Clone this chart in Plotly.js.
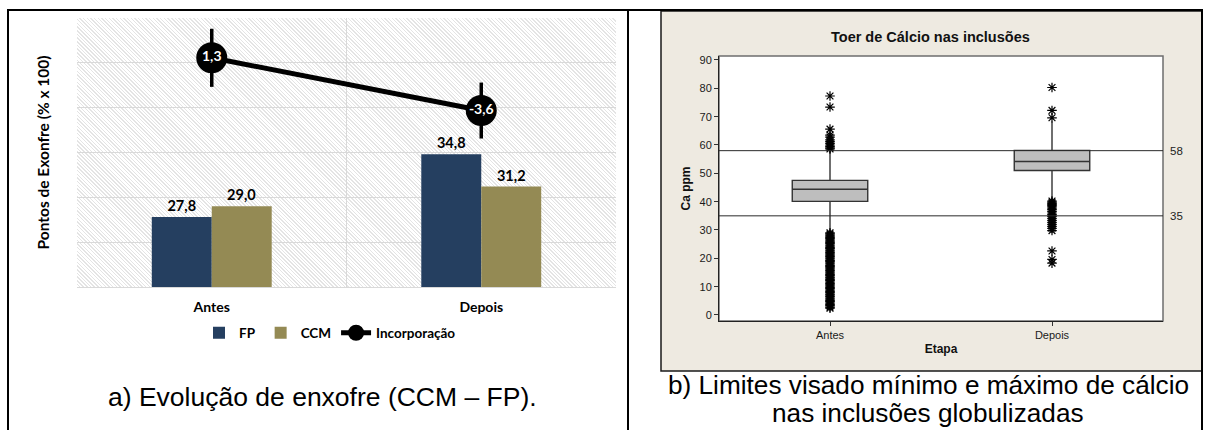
<!DOCTYPE html>
<html>
<head>
<meta charset="utf-8">
<script src="https://cdn.plot.ly/plotly-3.0.1.min.js"></script>
<style>
  html, body { margin:0; padding:0; background:#ffffff; }
  #wrap { position:relative; width:1218px; height:430px; overflow:hidden; }
  #hatch { position:absolute; left:77px; top:18px; width:539px; height:269px;
    background: repeating-linear-gradient(45deg, #ffffff 0px, #ffffff 1.6px, #e4e4e4 1.6px, #e4e4e4 2.6px); }
  #chart { position:absolute; left:0; top:0; width:1218px; height:430px; }
</style>
</head>
<body>
<div id="wrap"><div id="hatch"></div><div id="chart"></div></div>
<script>
// ---------- Data: chart a) ----------
const categorias = ['Antes', 'Depois'];
const fpValores = [27.8, 34.8];
const ccmValores = [29.0, 31.2];
const incorporacao = [1.3, -3.6];
const incorporacaoErro = [2.7, 2.6];

// ---------- Data: chart b) (box plot stats read from picture) ----------
const etapas = ['Antes', 'Depois'];
const q1Vals = [40.1, 51.0];
const medianVals = [44.4, 54.2];
const q3Vals = [47.5, 58.1];
const lowerFence = [29.3, 40.6];
const upperFence = [58.3, 68.3];
const limites = [58, 35];
const limiteLabels = ['58', '35'];
const antesOutliers = [77.3, 73.4, 65.6, 63.5, 62.8, 61.8, 61.2, 60.6, 60.0, 59.5, 59.0, 58.6,
  29.0, 28.6, 28.2, 27.8, 27.4, 27.0, 26.5, 26.1, 25.6, 25.2, 24.7, 24.3, 23.8, 23.4, 22.9, 22.5,
  22.0, 21.6, 21.1, 20.7, 20.2, 19.8, 19.3, 18.9, 18.4, 18.0, 17.5, 17.1, 16.6, 16.2, 15.7, 15.2,
  14.8, 14.3, 13.9, 13.4, 13.0, 12.5, 12.1, 11.6, 11.1, 10.6, 10.2, 9.7, 9.3, 8.8, 8.3, 7.9, 7.4,
  7.0, 6.5, 6.0, 5.6, 5.1, 4.7, 4.2, 3.7, 3.3, 2.8, 2.4];
const depoisOutliers = [80.3, 72.2, 69.6,
  40.2, 39.8, 39.4, 39.0, 38.6, 38.2, 37.7, 37.2, 36.6, 36.0, 35.4, 34.8, 34.1, 33.4, 32.7, 32.0,
  31.3, 30.6, 29.8, 22.6, 19.6, 18.3];

const W = 1218, H = 430;
const px = v => v / W;
const py = v => 1 - v / H;

const fontA = 'Lato, "Open Sans", sans-serif';
const fontB = '"Liberation Sans", Arial, sans-serif';
const fontCap = '"Liberation Sans", Arial, sans-serif';

const traces = [
  { type:'bar', name:'FP', x:categorias, y:fpValores, xaxis:'x', yaxis:'y',
    marker:{color:'#253f60'}, texttemplate:'%{y:.1f}', textposition:'outside',
    textfont:{family:fontA, size:14.5, color:'#000', weight:'bold'}, cliponaxis:false, hoverinfo:'skip' },
  { type:'bar', name:'CCM', x:categorias, y:ccmValores, xaxis:'x', yaxis:'y',
    marker:{color:'#948a54'}, texttemplate:'%{y:.1f}', textposition:'outside',
    textfont:{family:fontA, size:14.5, color:'#000', weight:'bold'}, cliponaxis:false, hoverinfo:'skip' },
  { type:'scatter', name:'Incorporação', x:categorias, y:incorporacao, xaxis:'x', yaxis:'y2',
    mode:'lines+markers+text', line:{color:'#000', width:5},
    marker:{color:'#000', size:31},
    error_y:{type:'data', array:incorporacaoErro, color:'#000', thickness:3.5, width:0},
    texttemplate:'%{y:.1f}', textposition:'middle center',
    textfont:{family:fontA, size:14, color:'#fff', weight:'bold'}, cliponaxis:false, hoverinfo:'skip' },
  { type:'box', x:etapas, q1:q1Vals, median:medianVals, q3:q3Vals,
    lowerfence:lowerFence, upperfence:upperFence, xaxis:'x3', yaxis:'y3',
    fillcolor:'#bebebe', line:{color:'#333333', width:1.4}, whiskerwidth:0, width:0.34,
    boxpoints:false, showlegend:false, hoverinfo:'skip' },
  { type:'scatter', mode:'markers', x:antesOutliers.map(() => 'Antes'), y:antesOutliers,
    xaxis:'x3', yaxis:'y3', showlegend:false, hoverinfo:'skip',
    marker:{symbol:'asterisk-open', size:8, color:'#000', line:{color:'#000', width:1.2}} },
  { type:'scatter', mode:'markers', x:depoisOutliers.map(() => 'Depois'), y:depoisOutliers,
    xaxis:'x3', yaxis:'y3', showlegend:false, hoverinfo:'skip',
    marker:{symbol:'asterisk-open', size:8, color:'#000', line:{color:'#000', width:1.2}} }
];

const shapes = [
  { type:'rect', xref:'paper', yref:'paper', x0:px(661), x1:px(1202), y0:py(371), y1:py(11),
    fillcolor:'#eeeae1', line:{color:'#1a1a1a', width:1.5}, layer:'below' },
  { type:'rect', xref:'x3 domain', yref:'y3 domain', x0:0, x1:1, y0:0, y1:1,
    fillcolor:'#ffffff', line:{color:'#6e6e6e', width:1.5}, layer:'below' },
  { type:'line', xref:'paper', yref:'paper', x0:px(7), x1:px(1203), y0:py(10), y1:py(10), line:{color:'#000', width:2} },
  { type:'line', xref:'paper', yref:'paper', x0:px(8), x1:px(8), y0:py(10), y1:0, line:{color:'#000', width:2} },
  { type:'line', xref:'paper', yref:'paper', x0:px(628), x1:px(628), y0:py(10), y1:0, line:{color:'#000', width:2} },
  { type:'line', xref:'paper', yref:'paper', x0:px(1202), x1:px(1202), y0:py(10), y1:0, line:{color:'#000', width:2} }
];
limites.forEach(v => shapes.push({ type:'line', xref:'x3 domain', yref:'y3', x0:0, x1:1, y0:v, y1:v,
  line:{color:'#2a2a2a', width:1} }));

const annotations = [
  { xref:'paper', yref:'paper', x:px(322), y:py(397), text:'a) Evolução de enxofre (CCM – FP).',
    showarrow:false, font:{family:fontCap, size:26.5, color:'#000'}, xanchor:'center', yanchor:'middle' },
  { xref:'paper', yref:'paper', x:px(928), y:py(385), text:'b) Limites visado mínimo e máximo de cálcio',
    showarrow:false, font:{family:fontCap, size:26.2, color:'#000'}, xanchor:'center', yanchor:'middle' },
  { xref:'paper', yref:'paper', x:px(928), y:py(413), text:'nas inclusões globulizadas',
    showarrow:false, font:{family:fontCap, size:26.2, color:'#000'}, xanchor:'center', yanchor:'middle' },
  { xref:'paper', yref:'paper', x:px(930), y:py(37), text:'Toer de Cálcio nas inclusões',
    showarrow:false, font:{family:fontB, size:14.5, color:'#111', weight:'bold'}, xanchor:'center', yanchor:'middle' }
];
limites.forEach((v, i) => annotations.push({ xref:'x3 domain', yref:'y3', x:1, y:v, xshift:5,
  text:limiteLabels[i], showarrow:false, xanchor:'left', yanchor:'middle',
  font:{family:fontB, size:11.5, color:'#222'} }));

const layout = {
  width:W, height:H, margin:{l:0, r:0, t:0, b:0},
  paper_bgcolor:'rgba(0,0,0,0)', plot_bgcolor:'rgba(0,0,0,0)',
  separators:',.',
  barmode:'group', bargap:0.555, bargroupgap:0,
  showlegend:true,
  legend:{orientation:'h', x:px(330), xanchor:'center', y:py(333), yanchor:'middle',
    font:{family:fontA, size:13.5, color:'#000', weight:'bold'}, itemwidth:30,
    bgcolor:'rgba(0,0,0,0)', tracegroupgap:0},
  xaxis:{domain:[px(77), px(616)], anchor:'y', type:'category', tickson:'boundaries',
    showgrid:true, gridcolor:'#d9d9d9', gridwidth:1, ticks:'', showline:true, linecolor:'#d9d9d9',
    ticklabelstandoff:7,
    tickfont:{family:fontA, size:14, color:'#000', weight:'bold'}, fixedrange:true},
  yaxis:{domain:[py(287), py(18)], anchor:'x', range:[20, 50], dtick:5, showgrid:true,
    gridcolor:'#d9d9d9', gridwidth:1, showticklabels:false, ticks:'', zeroline:false, showline:false,
    title:{text:'Pontos de Exonfre (% x 100)', standoff:22,
      font:{family:fontA, size:15.5, color:'#000', weight:'bold'}}},
  yaxis2:{overlaying:'y', side:'right', range:[-20, 5], showgrid:false, showticklabels:false,
    zeroline:false, showline:false, ticks:''},
  xaxis3:{domain:[px(719), px(1163)], anchor:'y3', type:'category', range:[-0.5, 1.5],
    showgrid:false, ticks:'outside', ticklen:4, tickcolor:'#333', showline:true, linecolor:'#222',
    tickfont:{family:fontB, size:11, color:'#1a1a1a'},
    title:{text:'Etapa', standoff:4, font:{family:fontB, size:12, color:'#111', weight:'bold'}}},
  yaxis3:{domain:[py(321), py(56)], anchor:'x3', range:[-2.12, 91.41], dtick:10, tick0:0,
    showgrid:false, zeroline:false, ticks:'outside', ticklen:4, tickcolor:'#333', showline:true, linecolor:'#222',
    tickfont:{family:fontB, size:11, color:'#1a1a1a'},
    title:{text:'Ca ppm', standoff:6, font:{family:fontB, size:12, color:'#111', weight:'bold'}}},
  shapes:shapes, annotations:annotations
};

Plotly.newPlot('chart', traces, layout, {displayModeBar:false, staticPlot:true});
</script>
</body>
</html>
